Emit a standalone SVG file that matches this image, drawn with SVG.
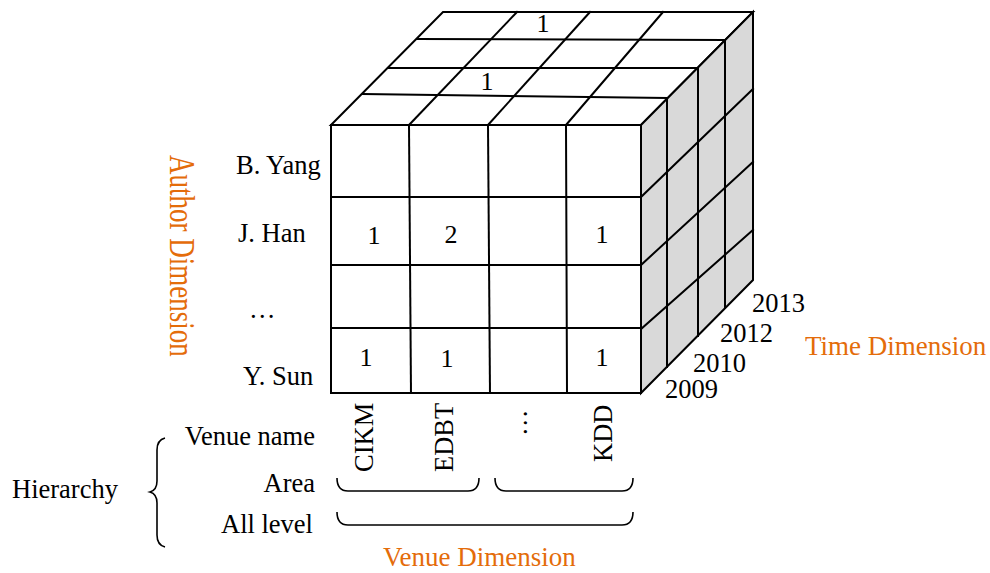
<svg xmlns="http://www.w3.org/2000/svg" width="990" height="573" viewBox="0 0 990 573">
<style>
.ln{stroke:#000;stroke-width:2;fill:none;stroke-linecap:square}
.fw{fill:#fff}
.fg{fill:#d9d9d9}
.br{stroke:#000;stroke-width:1.6;fill:none}
.t{font-family:"Liberation Serif","Times New Roman",serif;font-size:26.5px;fill:#000}
.n{font-family:"Liberation Serif","Times New Roman",serif;font-size:26px;fill:#000;text-anchor:middle}
.o{font-family:"Liberation Serif","Times New Roman",serif;font-size:27px;fill:#E46C0A}
.r{text-anchor:end}
</style>
<rect width="990" height="573" fill="#fff"/>
<g id="cube">
  <g id="top-face">
    <polygon points="331,125 443,12 753,12 641,125" class="ln fw"/>
    <line class="ln" x1="363" y1="94" x2="667" y2="98"/>
    <line class="ln" x1="388" y1="68" x2="697" y2="68"/>
    <line class="ln" x1="417" y1="39" x2="725" y2="40"/>
    <line class="ln" x1="409" y1="125" x2="517" y2="12"/>
    <line class="ln" x1="488" y1="125" x2="590" y2="12"/>
    <line class="ln" x1="566" y1="125" x2="663" y2="12"/>
    <text class="n" x="543" y="32">1</text>
    <text class="n" x="487" y="90">1</text>
  </g>
  <g id="right-face">
    <polygon points="641,125 753,12 753,280 641,393" class="ln fg"/>
    <line class="ln" x1="667" y1="98" x2="667" y2="367"/>
    <line class="ln" x1="698" y1="68" x2="698" y2="336"/>
    <line class="ln" x1="725" y1="40" x2="725" y2="308"/>
    <line class="ln" x1="641" y1="197" x2="753" y2="89"/>
    <line class="ln" x1="641" y1="265" x2="753" y2="162"/>
    <line class="ln" x1="641" y1="329" x2="753" y2="230"/>
  </g>
  <g id="front-face">
    <rect x="331" y="125" width="310" height="268" class="ln fw"/>
    <line class="ln" x1="409" y1="125" x2="411" y2="393"/>
    <line class="ln" x1="488" y1="125" x2="490" y2="393"/>
    <line class="ln" x1="566" y1="125" x2="567" y2="393"/>
    <line class="ln" x1="331" y1="197" x2="641" y2="197"/>
    <line class="ln" x1="331" y1="265" x2="641" y2="265"/>
    <line class="ln" x1="331" y1="328" x2="641" y2="328"/>
    <text class="n" x="374" y="244">1</text>
    <text class="n" x="451" y="243">2</text>
    <text class="n" x="602" y="243">1</text>
    <text class="n" x="366" y="366">1</text>
    <text class="n" x="447" y="367">1</text>
    <text class="n" x="602" y="366">1</text>
  </g>
</g>
<g id="author-labels">
  <text class="t" x="236" y="174">B. Yang</text>
  <text class="t" x="238" y="242">J. Han</text>
  <text class="t" x="249" y="318">…</text>
  <text class="t" x="243" y="385">Y. Sun</text>
</g>
<g id="author-dimension">
  <text class="o" transform="translate(170,155) rotate(90) scale(1,1.3)">Author Dimension</text>
</g>
<g id="time-labels">
  <text class="t" x="752" y="312">2013</text>
  <text class="t" x="720" y="342">2012</text>
  <text class="t" x="693" y="372">2010</text>
  <text class="t" x="665" y="398">2009</text>
</g>
<g id="time-dimension">
  <text class="o" x="805" y="355">Time Dimension</text>
</g>
<g id="venue-labels">
  <text class="t" transform="translate(373,472) rotate(-90)">CIKM</text>
  <text class="t" transform="translate(453,472) rotate(-90)">EDBT</text>
  <text class="t" transform="translate(527,436) rotate(-90)">…</text>
  <text class="t" transform="translate(612,462) rotate(-90)">KDD</text>
</g>
<g id="hierarchy">
  <text class="t" x="12" y="498">Hierarchy</text>
  <text class="t r" x="315" y="445">Venue name</text>
  <text class="t r" x="315" y="492">Area</text>
  <text class="t r" x="313" y="533">All level</text>
</g>
<g id="connectors">
  <path class="br" d="M165,438 Q157,440 157,450 L157,481 Q157,490 150,492 Q157,494 157,503 L157,535 Q157,545 165,547"/>
  <path class="br" d="M337,478 Q337,491 348,491 L468,491 Q479,491 479,478"/>
  <path class="br" d="M495,478 Q495,491 506,491 L622,491 Q633,491 633,478"/>
  <path class="br" d="M337,512 Q337,525 348,525 L622,525 Q633,525 633,512"/>
</g>
<g id="venue-dimension">
  <text class="o" x="383" y="566">Venue Dimension</text>
</g>
</svg>
